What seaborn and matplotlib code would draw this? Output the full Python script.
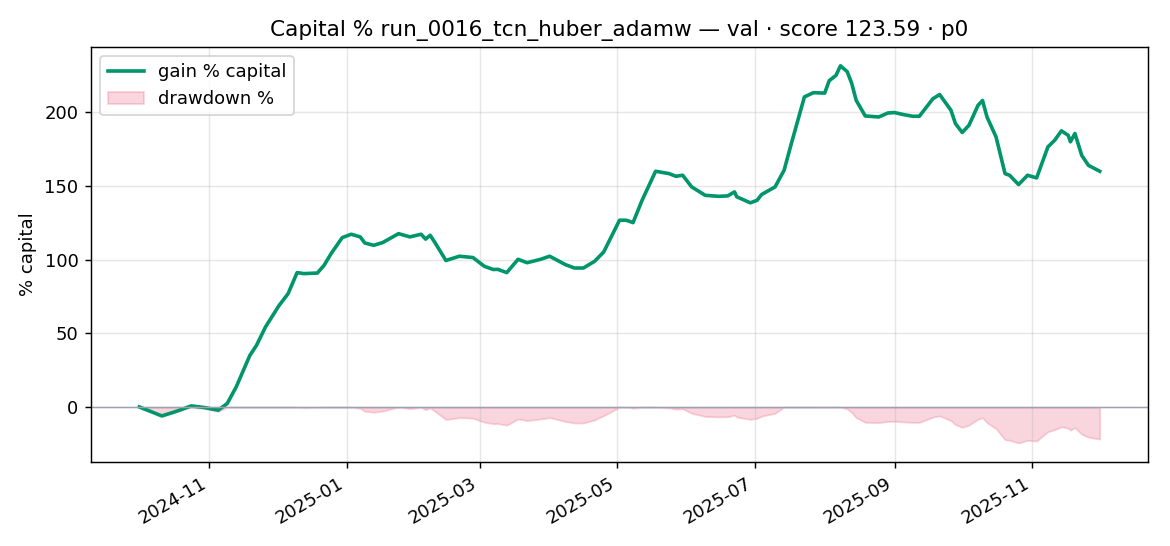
import pandas as pd
import matplotlib
matplotlib.use('Agg')
import matplotlib.pyplot as plt
import matplotlib.dates as mdates
import seaborn as sns

# gain % capital
dates = ['2024-10-01', '2024-10-11', '2024-10-18', '2024-10-24', '2024-10-30', '2024-11-05',
         '2024-11-09', '2024-11-13', '2024-11-19', '2024-11-22', '2024-11-26', '2024-12-02',
         '2024-12-06', '2024-12-10', '2024-12-13', '2024-12-19', '2024-12-22', '2024-12-25',
         '2024-12-30', '2025-01-03', '2025-01-07', '2025-01-09', '2025-01-13', '2025-01-17',
         '2025-01-24', '2025-01-29', '2025-02-03', '2025-02-05', '2025-02-07', '2025-02-09',
         '2025-02-14', '2025-02-20', '2025-02-26', '2025-03-03', '2025-03-07', '2025-03-09',
         '2025-03-13', '2025-03-18', '2025-03-22', '2025-03-28', '2025-04-01', '2025-04-08',
         '2025-04-12', '2025-04-16', '2025-04-21', '2025-04-25', '2025-05-02', '2025-05-05',
         '2025-05-08', '2025-05-12', '2025-05-18', '2025-05-24', '2025-05-27', '2025-05-30',
         '2025-06-03', '2025-06-09', '2025-06-15', '2025-06-19', '2025-06-22', '2025-06-23',
         '2025-06-29', '2025-07-02', '2025-07-04', '2025-07-10', '2025-07-14', '2025-07-17',
         '2025-07-23', '2025-07-27', '2025-08-01', '2025-08-03', '2025-08-06', '2025-08-08',
         '2025-08-11', '2025-08-13', '2025-08-15', '2025-08-19', '2025-08-25', '2025-08-29',
         '2025-09-01', '2025-09-05', '2025-09-09', '2025-09-12', '2025-09-18', '2025-09-21',
         '2025-09-26', '2025-09-28', '2025-10-01', '2025-10-04', '2025-10-08', '2025-10-10',
         '2025-10-12', '2025-10-16', '2025-10-20', '2025-10-22', '2025-10-26', '2025-10-30',
         '2025-11-03', '2025-11-08', '2025-11-11', '2025-11-14', '2025-11-17', '2025-11-18',
         '2025-11-20', '2025-11-23', '2025-11-26', '2025-12-01']
gain = [0.2, -5.9, -2.5, 0.9, -0.2, -2.0,
        2.5, 13.8, 35.0, 42.0, 54.5, 69.0,
        77.0, 91.3, 90.6, 91.0, 96.3, 104.0,
        115.0, 117.3, 115.5, 111.4, 109.8, 111.7,
        117.7, 115.5, 117.3, 114.0, 116.6, 112.0,
        99.5, 102.4, 101.5, 95.6, 93.4, 93.5,
        91.3, 100.3, 98.0, 100.3, 102.4, 96.7,
        94.4, 94.4, 99.0, 105.3, 126.8, 126.8,
        125.2, 140.3, 160.0, 158.4, 156.6, 157.3,
        149.4, 143.7, 143.0, 143.3, 146.0, 142.7,
        138.6, 140.3, 144.2, 149.4, 160.7, 177.6,
        210.4, 213.3, 213.0, 221.4, 225.0, 231.5,
        227.5, 219.5, 208.0, 197.5, 196.8, 199.5,
        199.8, 198.4, 197.3, 197.3, 209.2, 212.0,
        201.4, 192.3, 186.3, 191.2, 204.7, 208.0,
        196.8, 183.3, 158.4, 157.3, 151.0, 157.3,
        155.5, 176.5, 181.0, 187.4, 184.4, 180.0,
        185.6, 170.8, 164.0, 160.0]

df = pd.DataFrame({'date': pd.to_datetime(dates), 'gain': gain})
# drawdown relative to running peak of equity
equity = 1 + df['gain'] / 100
df['drawdown'] = (equity / equity.cummax() - 1) * 100

fig, ax = plt.subplots(figsize=(9, 4.2), dpi=130)
sns.lineplot(x='date', y='gain', data=df, ax=ax, color='#00956b', linewidth=2, label='gain % capital')
ax.fill_between(df['date'], df['drawdown'], 0, color='#e8486a', alpha=0.22, label='drawdown %')
ax.axhline(0, color='#9aa3b2', linewidth=0.8)

ax.xaxis.set_major_locator(mdates.MonthLocator(bymonth=[1, 3, 5, 7, 9, 11]))
ax.xaxis.set_major_formatter(mdates.DateFormatter('%Y-%m'))
ax.grid(True, alpha=0.3)
ax.set_xlabel('')
ax.set_ylabel('% capital')
ax.set_title('Capital % run_0016_tcn_huber_adamw — val · score 123.59 · p0', fontsize=12)
ax.legend(loc='upper left')
fig.autofmt_xdate()
plt.subplots_adjust(left=0.078, right=0.981, top=0.914, bottom=0.154)
plt.savefig('out.png')
